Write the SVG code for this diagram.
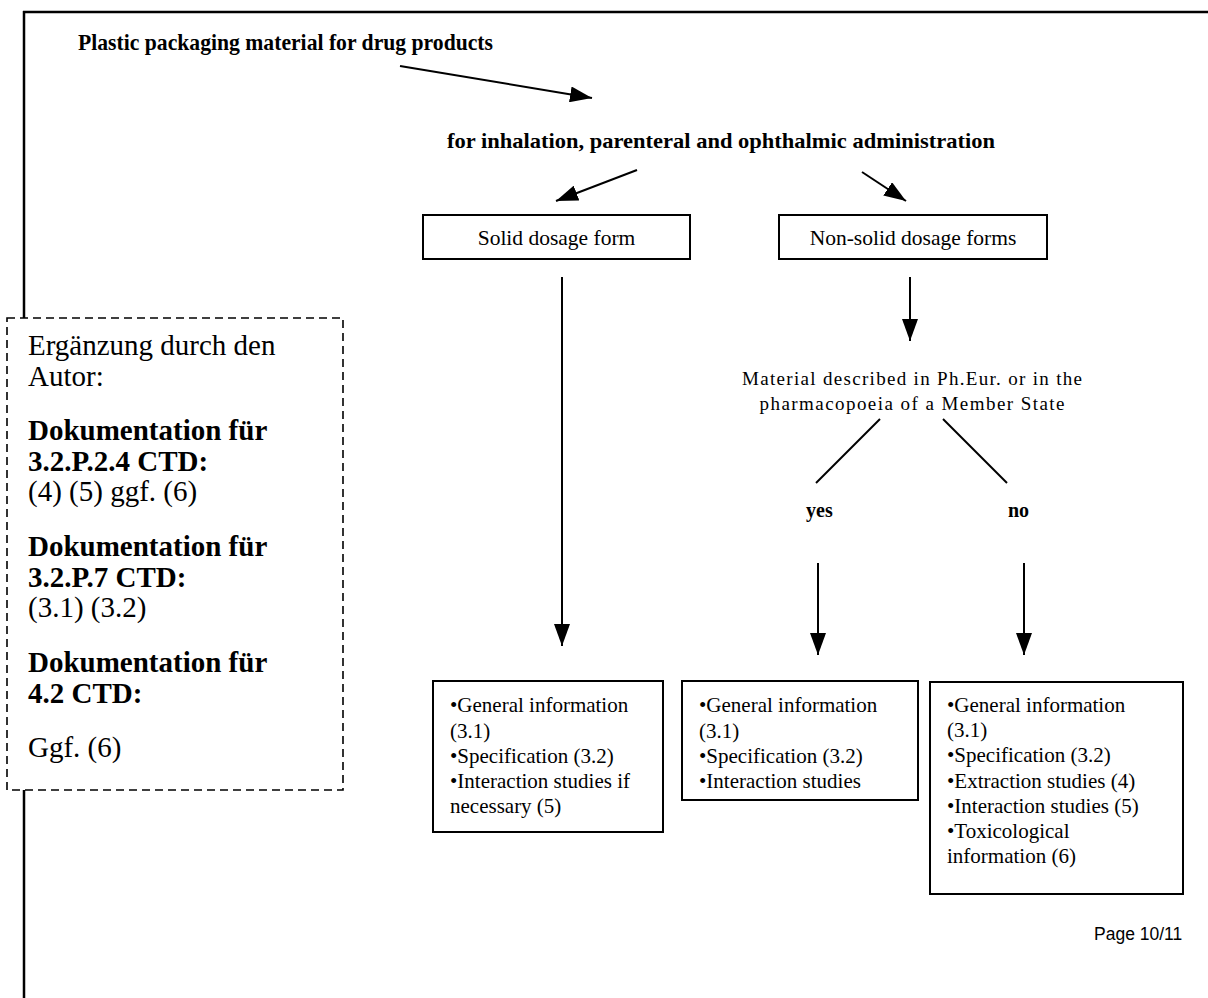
<svg xmlns="http://www.w3.org/2000/svg" width="1208" height="998" viewBox="0 0 1208 998">
<defs>
<marker id="ah" viewBox="0 0 22 16" refX="22" refY="8" markerWidth="22" markerHeight="16" markerUnits="userSpaceOnUse" orient="auto">
<path d="M0,0 L22,8 L0,16 z" fill="#000"/>
</marker>
<style>
.s{font-family:"Liberation Serif","Times New Roman",serif;fill:#000}
.b{font-weight:bold}
.box{fill:#fff;stroke:#000;stroke-width:2}
.ln{stroke:#000;stroke-width:2;fill:none}
.arr{stroke:#000;stroke-width:2;fill:none;marker-end:url(#ah)}
</style>
</defs>
<rect width="1208" height="998" fill="#fff"/>
<g id="frame">
<line x1="23" y1="12" x2="1208" y2="12" stroke="#000" stroke-width="2.5"/>
<line x1="24" y1="11" x2="24" y2="998" stroke="#000" stroke-width="2.5"/>
</g>
<g id="author-note">
<rect x="7" y="318" width="336" height="472" fill="#fff" stroke="#000" stroke-width="1.6" stroke-dasharray="8 5"/>
<g class="s" font-size="29">
<text x="28" y="355">Ergänzung durch den</text>
<text x="28" y="386">Autor:</text>
<text x="28" y="440" class="b">Dokumentation für</text>
<text x="28" y="471" class="b">3.2.P.2.4 CTD:</text>
<text x="28" y="501">(4) (5) ggf. (6)</text>
<text x="28" y="556" class="b">Dokumentation für</text>
<text x="28" y="587" class="b">3.2.P.7 CTD:</text>
<text x="28" y="617">(3.1) (3.2)</text>
<text x="28" y="672" class="b">Dokumentation für</text>
<text x="28" y="703" class="b">4.2 CTD:</text>
<text x="28" y="757">Ggf. (6)</text>
</g>
</g>
<g id="title">
<text class="s b" x="78" y="50" font-size="23" textLength="415" lengthAdjust="spacingAndGlyphs">Plastic packaging material for drug products</text>
</g>
<g id="route">
<text class="s b" x="447" y="148" font-size="22" textLength="548" lengthAdjust="spacingAndGlyphs">for inhalation, parenteral and ophthalmic administration</text>
</g>
<g id="solid">
<rect class="box" x="423" y="215" width="267" height="44"/>
<text class="s" x="556.5" y="245" font-size="21.5" text-anchor="middle">Solid dosage form</text>
</g>
<g id="nonsolid">
<rect class="box" x="779" y="215" width="268" height="44"/>
<text class="s" x="913" y="245" font-size="21.5" text-anchor="middle">Non-solid dosage forms</text>
</g>
<g id="question">
<text class="s" x="912" y="385" font-size="19" text-anchor="middle" textLength="340">Material described in Ph.Eur. or in the</text>
<text class="s" x="912" y="410" font-size="19" text-anchor="middle" textLength="305">pharmacopoeia of a Member State</text>
</g>
<g id="yes">
<text class="s b" x="806" y="517" font-size="20">yes</text>
</g>
<g id="no">
<text class="s b" x="1008" y="517" font-size="20">no</text>
</g>
<g id="result-solid">
<rect class="box" x="433" y="681" width="230" height="151"/>
<g class="s" font-size="21">
<text x="450" y="712">•General information</text>
<text x="450" y="738">(3.1)</text>
<text x="450" y="763">•Specification (3.2)</text>
<text x="450" y="788">•Interaction studies if</text>
<text x="450" y="813">necessary (5)</text>
</g>
</g>
<g id="result-yes">
<rect class="box" x="682" y="681" width="236" height="119"/>
<g class="s" font-size="21">
<text x="699" y="712">•General information</text>
<text x="699" y="738">(3.1)</text>
<text x="699" y="763">•Specification (3.2)</text>
<text x="699" y="788">•Interaction studies</text>
</g>
</g>
<g id="result-no">
<rect class="box" x="930" y="682" width="253" height="212"/>
<g class="s" font-size="21">
<text x="947" y="712">•General information</text>
<text x="947" y="737">(3.1)</text>
<text x="947" y="762">•Specification (3.2)</text>
<text x="947" y="788">•Extraction studies (4)</text>
<text x="947" y="813">•Interaction studies (5)</text>
<text x="947" y="838">•Toxicological</text>
<text x="947" y="863">information (6)</text>
</g>
</g>
<g id="page-number">
<text x="1094" y="940" font-family="'Liberation Sans',Arial,sans-serif" font-size="17.5" fill="#000">Page 10/11</text>
</g>
<g id="connectors">
<line class="arr" x1="400" y1="66" x2="592" y2="98"/>
<line class="arr" x1="637" y1="170" x2="556" y2="201"/>
<line class="arr" x1="862" y1="172" x2="906" y2="201"/>
<line class="arr" x1="562" y1="277" x2="562" y2="646"/>
<line class="arr" x1="910" y1="277" x2="910" y2="341"/>
<line class="ln" x1="880" y1="419" x2="816" y2="483"/>
<line class="ln" x1="943" y1="419" x2="1007" y2="483"/>
<line class="arr" x1="818" y1="563" x2="818" y2="655"/>
<line class="arr" x1="1024" y1="563" x2="1024" y2="655"/>
</g>
</svg>
